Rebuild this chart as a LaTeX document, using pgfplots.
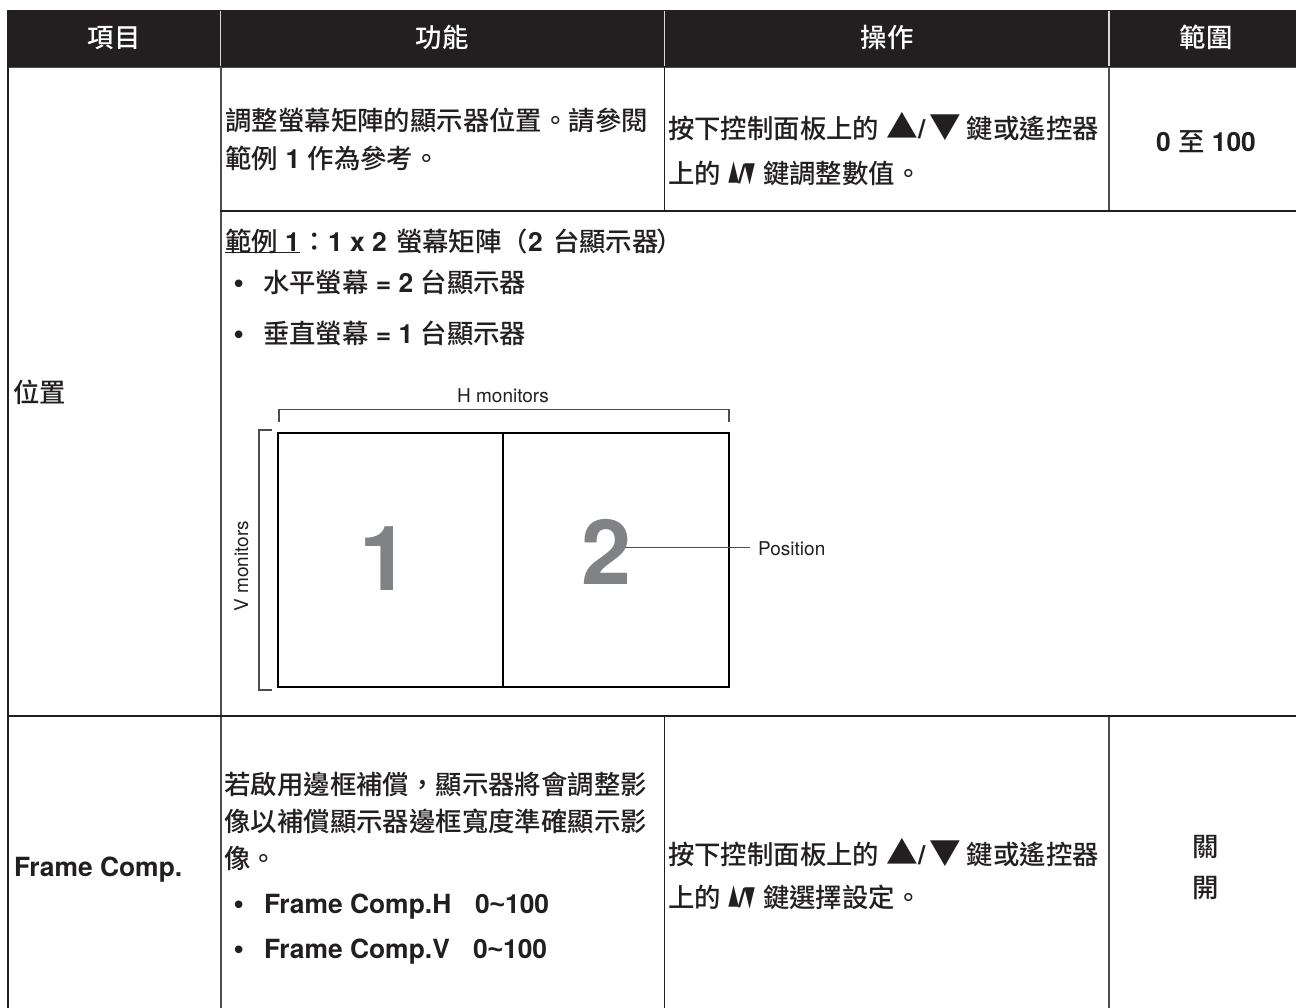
\documentclass[border=0pt]{standalone}
\usepackage{fontspec}
\usepackage{graphicx}
\usepackage{pgfplots}
\pgfplotsset{compat=1.18}
\setmainfont{TeX Gyre Heros}
\newfontfamily\lib{Liberation Sans}
\newfontfamily\cjk{Noto Sans CJK TC}[UprightFont=* Medium]
\definecolor{ink}{HTML}{231F20}
\definecolor{rule}{HTML}{4D4D4F}
\definecolor{digit}{HTML}{808285}
\newcommand{\C}[1]{{\cjk #1}}
\newcommand{\B}[1]{{\bfseries #1}}
\newcommand{\T}{{\lib\bfseries \textasciitilde}}
\newcommand{\Bu}{{\lib\bfseries •}}
\newcommand{\up}{\scalebox{1.2}[1.2]{\C{▲}}\B{/}}
\newcommand{\down}{\scalebox{1.2}[1.2]{\C{▼}}}
\newcommand{\sq}{\scalebox{0.42}[1]{\C{▲}}\hspace{-1pt}\B{/}\hspace{-1pt}\scalebox{0.42}[1]{\C{▼}}}
\tikzset{cell/.style={anchor=base west,inner sep=0pt,outer sep=0pt,text=ink,font=\fontsize{26.4}{30}\selectfont},
 mid/.style={anchor=base,inner sep=0pt,outer sep=0pt,text=ink,font=\fontsize{26.4}{30}\selectfont}}
\begin{document}
\begin{tikzpicture}
\begin{axis}[
  width=1296pt,height=1008pt,scale only axis,
  xmin=0,xmax=1296,ymin=0,ymax=1008,y dir=reverse,
  hide axis,clip=true,
  every axis plot/.append style={no markers,line join=miter}]
\path[use as bounding box] (axis cs:0,0) rectangle (axis cs:1296,1008);
% header band
\addplot[fill=ink,draw=none] coordinates {(7,10)(1296,10)(1296,67)(7,67)} -- cycle;
\addplot[white!85!black,line width=1.2pt] coordinates {(220.5,11)(220.5,66)};
\addplot[white!85!black,line width=1.2pt] coordinates {(664.5,11)(664.5,66)};
\addplot[white!85!black,line width=1.2pt] coordinates {(1109,11)(1109,66)};
% table rules
\addplot[rule,line width=1.3pt] coordinates {(7,67.5)(1296,67.5)};
\addplot[ink,line width=2pt] coordinates {(8,67)(8,1008)};
\addplot[rule,line width=1.8pt] coordinates {(220.8,67)(220.8,1008)};
\addplot[ink,line width=1.6pt] coordinates {(664.5,67)(664.5,211)};
\addplot[ink,line width=1.6pt] coordinates {(664.5,716)(664.5,1008)};
\addplot[rule,line width=1.5pt] coordinates {(1109,67)(1109,211)};
\addplot[rule,line width=1.5pt] coordinates {(1109,716)(1109,1008)};
\addplot[ink,line width=1.8pt] coordinates {(220,211)(1296,211)};
\addplot[ink,line width=2.2pt] coordinates {(7,716)(1296,716)};
% diagram
\addplot[black,line width=1.6pt] coordinates {(278,433)(729,433)(729,687)(278,687)} -- cycle;
\addplot[black,line width=1.6pt] coordinates {(503,433)(503,687)};
\addplot[rule,line width=1.2pt] coordinates {(279,422)(279,409.5)(729,409.5)(729,422)};
\addplot[rule,line width=1.2pt] coordinates {(272,430)(259,430)(259,690)(272,690)};
\addplot[rule,line width=1.2pt] coordinates {(620,547.5)(750,547.5)};
\addplot[ink,line width=1pt] coordinates {(225,253)(300,253)};
% header text
\node[mid,text=white] at (axis cs:114,48) {\C{項目}};
\node[mid,text=white] at (axis cs:442,48) {\C{功能}};
\node[mid,text=white] at (axis cs:887,48) {\C{操作}};
\node[mid,text=white] at (axis cs:1206,48) {\C{範圍}};
% column 1
\node[cell] at (axis cs:13,402) {\C{位置}};
\node[cell] at (axis cs:14,876) {\B{Frame Comp.}};
% row 1
\node[cell] at (axis cs:225.5,131) {\C{調整螢幕矩陣的顯示器位置。請參閱}};
\node[cell] at (axis cs:225.5,169) {\C{範例} \B{1} \C{作為參考。}};
\node[cell] at (axis cs:668,139) {\C{按下控制面板上的} \up\hspace{-3pt} \down\hspace{-2pt} \C{鍵或遙控器}};
\node[cell] at (axis cs:668,184) {\C{上的} \sq\ \C{鍵調整數值。}};
\node[mid] at (axis cs:1206,152) {\B{0} \C{至} \B{100}};
% row 2
\node[cell] at (axis cs:225,252) {\C{範例} \B{1}};
\node[cell] at (axis cs:301,252) {\C{：}};
\node[cell] at (axis cs:328,252) {\B{1 x 2}};
\node[cell] at (axis cs:396,252) {\C{螢幕矩陣}};
\node[cell] at (axis cs:501,252) {\C{（}};
\node[cell] at (axis cs:528,252) {\B{2}};
\node[cell] at (axis cs:553,252) {\C{台顯示器}};
\node[cell] at (axis cs:656,252) {\C{）}};
\node[cell] at (axis cs:234,293) {\Bu};
\node[cell] at (axis cs:263,293) {\C{水平螢幕} \B{= 2} \C{台顯示器}};
\node[cell] at (axis cs:234,344) {\Bu};
\node[cell] at (axis cs:263,344) {\C{垂直螢幕} \B{= 1} \C{台顯示器}};
% diagram text
\node[mid,font=\fontsize{19}{22}\selectfont] at (axis cs:503,402) {H monitors};
\node[anchor=base,inner sep=0pt,rotate=90,text=ink,font=\fontsize{19}{22}\selectfont] at (axis cs:248,566) {V monitors};
\node[anchor=base west,inner sep=0pt,text=ink,font=\fontsize{19}{22}\selectfont] at (axis cs:758,555) {Position};
\node[anchor=base,inner sep=0pt,text=digit,font=\fontsize{90}{100}\selectfont\bfseries] at (axis cs:385,590) {1};
\node[anchor=base,inner sep=0pt,text=digit,font=\fontsize{90}{100}\selectfont\bfseries] at (axis cs:607,584) {2};
% row 3
\node[cell] at (axis cs:224.5,794) {\C{若啟用邊框補償，顯示器將會調整影}};
\node[cell] at (axis cs:224.5,831) {\C{像以補償顯示器邊框寬度準確顯示影}};
\node[cell] at (axis cs:224.5,868) {\C{像。}};
\node[cell] at (axis cs:234,913) {\Bu};
\node[cell] at (axis cs:264,913) {\B{Frame Comp.H}};
\node[cell] at (axis cs:475,913) {\B{0}\T\B{100}};
\node[cell] at (axis cs:234,958) {\Bu};
\node[cell] at (axis cs:264,958) {\B{Frame Comp.V}};
\node[cell] at (axis cs:473,958) {\B{0}\T\B{100}};
\node[cell] at (axis cs:668,864) {\C{按下控制面板上的} \up\hspace{-3pt} \down\hspace{-2pt} \C{鍵或遙控器}};
\node[cell] at (axis cs:668,907) {\C{上的} \sq\ \C{鍵選擇設定。}};
\node[mid] at (axis cs:1206,856) {\C{關}};
\node[mid] at (axis cs:1206,897) {\C{開}};
\end{axis}
\end{tikzpicture}
\end{document}
